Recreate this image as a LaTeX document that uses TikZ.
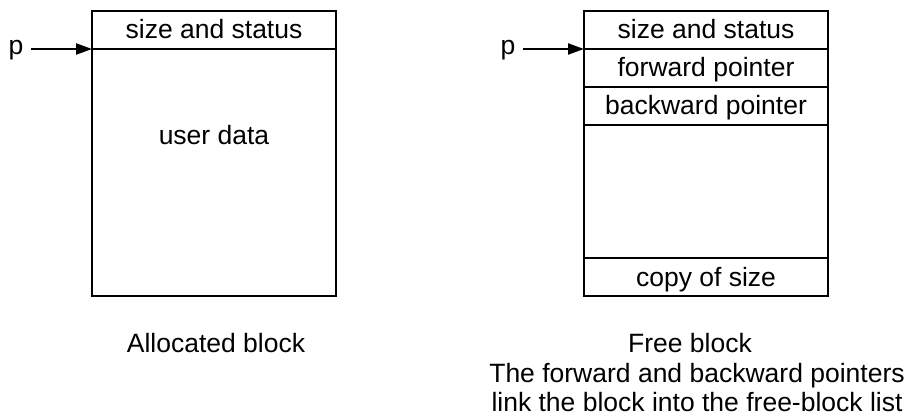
\documentclass[tikz,border=0pt]{standalone}
\usepackage{fontspec}
\setmainfont{Liberation Sans}
\usetikzlibrary{arrows.meta}
\begin{document}
\begin{tikzpicture}[x=1pt,y=-1pt,
  every node/.style={inner sep=0pt,outer sep=0pt,font=\fontsize{26.5}{30}\selectfont},
  cell/.style={draw,line width=2.2pt,minimum width=244pt,text height=21pt,text depth=3pt},
  ptr/.style={line width=2.2pt,-{Triangle[length=16pt,width=11pt]}},
  lbl/.style={anchor=base}]
\useasboundingbox (0,0) rectangle (908,417);
% allocated block
\node[cell,minimum height=38pt] (ls) at (214,30) {size and status};
\node[cell,minimum height=247pt] (lu) at (214,172.5) {};
\node[lbl] (ut) at (214,145) {user data};
\node[lbl] (p1) at (16,55) {p};
\draw[ptr,shorten <=7.6pt] (p1.east |- ls.south west) -- (ls.south west);
\node[lbl] (ac) at (216,352) {Allocated block};
% free block
\node[cell,minimum height=38pt] (r1) at (706,30) {size and status};
\node[cell,minimum height=38pt] (r2) at (706,68) {forward pointer};
\node[cell,minimum height=38pt] (r3) at (706,106) {backward pointer};
\node[cell,minimum height=133pt] (r4) at (706,191.5) {};
\node[cell,minimum height=38pt] (r5) at (706,277) {copy of size};
\node[lbl] (p2) at (508,55) {p};
\draw[ptr,shorten <=7.8pt] (p2.east |- r1.south west) -- (r1.south west);
\node[lbl] (fc1) at (690,352) {Free block};
\node[lbl] (fc2) at (697,382.5) {The forward and backward pointers};
\node[lbl] (fc3) at (697,411) {link the block into the free-block list};
\end{tikzpicture}
\end{document}
